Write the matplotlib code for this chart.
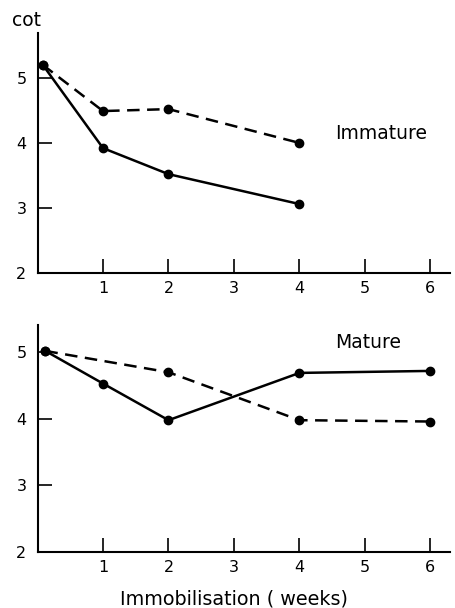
import matplotlib
matplotlib.use('Agg')
import matplotlib.pyplot as plt

# data
imm_weeks_solid = [0.08, 1, 2, 4]
imm_solid = [5.20, 3.92, 3.52, 3.06]
imm_weeks_dash = [0.08, 1, 2, 4]
imm_dash = [5.20, 4.49, 4.52, 4.00]

mat_weeks = [0.12, 1, 2, 4, 6]
mat_solid = [5.02, 4.53, 3.98, 4.69, 4.72]
mat_weeks_dash = [0.12, 2, 4, 6]
mat_dash = [5.02, 4.70, 3.98, 3.96]

xticks = [1, 2, 3, 4, 5, 6]
yticks = [2, 3, 4, 5]

plt.rcParams['font.family'] = ['DejaVu Sans']
plt.rcParams['font.size'] = 11.5

fig = plt.figure(figsize=(4.55, 6.08), dpi=100)
ax1 = fig.add_axes([0.0825, 0.551, 0.9066, 0.3947])
ax2 = fig.add_axes([0.0825, 0.0921, 0.9066, 0.3734])


def style(ax, ytop):
    ax.set_xlim(0, 6.3)
    ax.set_ylim(2, ytop)
    ax.set_xticks(xticks)
    ax.set_yticks(yticks)
    for s in ['top', 'right']:
        ax.spines[s].set_visible(False)
    for s in ['left', 'bottom']:
        ax.spines[s].set_linewidth(1.5)
    ax.tick_params(direction='in', length=10, width=1.2, pad=6)
    ax.tick_params(axis='y', pad=8)


kw = dict(color='black', lw=1.8, marker='o', ms=6)

ax1.plot(imm_weeks_solid, imm_solid, '-', **kw)
ax1.plot(imm_weeks_dash, imm_dash, '--', dashes=(5, 3), **kw)
style(ax1, 5.69)
ax1.text(4.54, 4.15, 'Immature', fontsize=13.5, va='center')
fig.text(12 / 455, 1 - 20 / 608, 'cot', fontsize=13.5, va='center', ha='left')

ax2.plot(mat_weeks, mat_solid, '-', **kw)
ax2.plot(mat_weeks_dash, mat_dash, '--', dashes=(5, 3), **kw)
style(ax2, 5.41)
ax2.text(4.54, 5.15, 'Mature', fontsize=13.5, va='center')
fig.text(234 / 455, 9 / 608, 'Immobilisation ( weeks)', fontsize=13.8,
         ha='center', va='center')

fig.savefig('out.png', dpi=100)
